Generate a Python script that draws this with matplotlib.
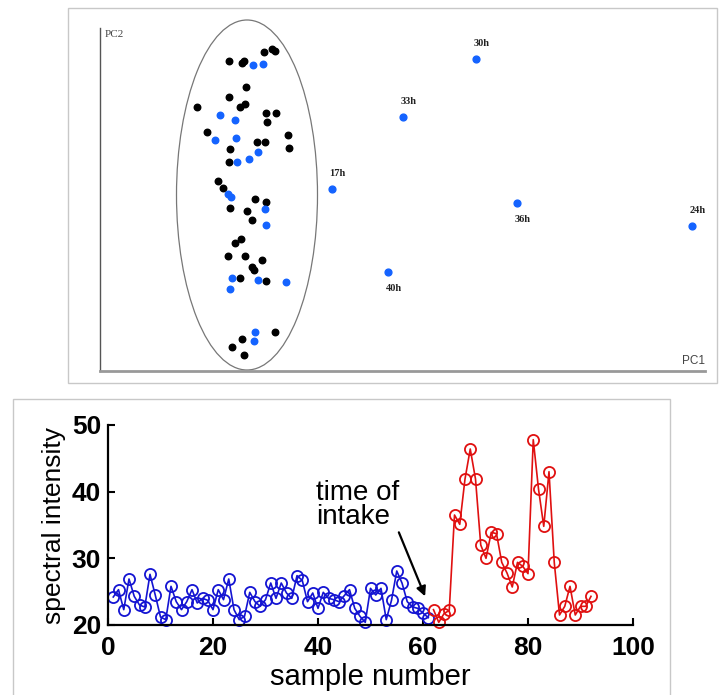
import matplotlib
matplotlib.use("Agg")
import matplotlib.pyplot as plt
from matplotlib.patches import Ellipse, Rectangle

# ---------------- top panel data (PCA scores, arbitrary units) ----------------
black_pc1 = [164, 172, 175, 129, 142, 144, 146, 129, 97, 140, 145, 166, 176, 167,
             107, 188, 157, 165, 130, 189, 129, 118, 123, 155, 166, 130, 147, 152,
             135, 141, 128, 145, 162, 152, 154, 140, 166, 175, 142, 132, 144]
black_pc2 = [319, 322, 320, 310, 308, 310, 284, 274, 264, 264, 267, 258, 258, 249,
             239, 236, 229, 229, 222, 223, 209, 190, 183, 172, 169, 163, 160, 151,
             128, 132, 115, 115, 111, 104, 101, 93, 90, 39, 32, 24, 16]
blue_pc1 = [153, 163, 120, 135, 115, 136, 158, 149, 137, 128, 131, 165, 166, 132,
            158, 186, 130, 155, 154]
blue_pc2 = [306, 307, 256, 251, 231, 233, 219, 212, 209, 177, 174, 162, 146, 93,
            91, 89, 82, 39, 30]
lab_names = ["17h", "33h", "30h", "36h", "24h", "40h"]
lab_pc1 = [232, 303, 376, 417, 592, 288]
lab_pc2 = [182, 254, 312, 168, 145, 99]
lab_up = [True, True, True, False, True, False]

# ---------------- bottom panel data ----------------
blue_x = list(range(1, 62))
blue_y = [24.2, 25.3, 22.3, 26.9, 24.3, 23.0, 22.7, 27.6, 24.5, 21.2,
          20.8, 25.8, 23.5, 22.3, 23.5, 25.3, 23.3, 24.0, 23.7, 22.3,
          25.3, 23.8, 26.9, 22.3, 20.8, 21.3, 24.9, 23.5, 22.8, 23.8,
          26.3, 24.0, 26.3, 24.8, 24.0, 27.4, 26.7, 23.5, 24.8, 22.5,
          24.9, 24.0, 23.8, 23.5, 24.4, 25.3, 22.5, 21.3, 20.4, 25.5,
          24.5, 25.5, 20.8, 23.7, 28.1, 26.3, 23.5, 22.7, 22.5, 21.8,
          21.1]
red_x = list(range(62, 93))
red_y = [22.3, 20.4, 21.7, 22.2, 36.5, 35.1, 41.9, 46.4, 41.9, 32.0,
         30.0, 33.9, 33.7, 29.4, 27.8, 25.7, 29.4, 28.8, 27.7, 47.8,
         40.4, 34.8, 43.0, 29.4, 21.5, 22.8, 25.8, 21.5, 22.8, 22.8,
         24.3]
xticks = [0, 20, 40, 60, 80, 100]
yticks = [20, 30, 40, 50]

W, H = 723, 695
fig = plt.figure(figsize=(W / 100, H / 100), dpi=100)

def fx(px):
    return px / W

def fy(py):
    return 1 - py / H

# outer frames
fig.add_artist(Rectangle((fx(68), fy(383)), 649 / W, 375 / H, transform=fig.transFigure,
                         fill=False, ec="#c8c8c8", lw=1))
fig.add_artist(Rectangle((fx(13), -0.01), 657 / W, fy(399) + 0.01, transform=fig.transFigure,
                         fill=False, ec="#c8c8c8", lw=1))

# ---------------- top axes ----------------
ax1 = fig.add_axes([fx(100), fy(371), 605 / W, 343 / H])
ax1.set_xlim(0, 605)
ax1.set_ylim(0, 343)
ax1.set_xticks([])
ax1.set_yticks([])
for s in ["top", "right"]:
    ax1.spines[s].set_visible(False)
ax1.spines["left"].set_color("#555555")
ax1.spines["left"].set_linewidth(1.0)
ax1.spines["bottom"].set_color("#999999")
ax1.spines["bottom"].set_linewidth(2.0)

ax1.add_patch(Ellipse((147, 176), 141, 350, fill=False, ec="#777777", lw=0.9, clip_on=False))
ax1.scatter(black_pc1, black_pc2, s=22, color="black", zorder=3, clip_on=False)
ax1.scatter(blue_pc1, blue_pc2, s=22, color="#1463ff", zorder=3, clip_on=False)
ax1.scatter(lab_pc1, lab_pc2, s=24, color="#1463ff", zorder=3, clip_on=False)
for n, x, y, up in zip(lab_names, lab_pc1, lab_pc2, lab_up):
    ax1.annotate(n, (x, y), xytext=(4, 11 if up else -12), textcoords="offset points",
                 ha="center", va="center", fontsize=7.5, fontweight="bold",
                 family="Liberation Serif", color="#222222")
ax1.text(0.007, 0.995, "PC2", transform=ax1.transAxes, ha="left", va="top",
         fontsize=8, family="Liberation Serif", color="#444444")
ax1.text(1.0, 0.012, "PC1", transform=ax1.transAxes, ha="right", va="bottom",
         fontsize=8.5, family="Liberation Sans", color="#444444")

# ---------------- bottom axes ----------------
ax2 = fig.add_axes([fx(108), fy(625), 525 / W, 200 / H])
ax2.set_xlim(0, 100)
ax2.set_ylim(20, 50)
for s in ["top", "right"]:
    ax2.spines[s].set_visible(False)
for s in ["left", "bottom"]:
    ax2.spines[s].set_linewidth(1.6)
    ax2.spines[s].set_color("black")
ax2.set_xticks(xticks)
ax2.set_yticks(yticks)
ax2.tick_params(direction="in", length=5, width=1.5)
ax2.tick_params(axis="x", pad=8)
ax2.tick_params(axis="y", pad=5)
for lab in ax2.get_xticklabels() + ax2.get_yticklabels():
    lab.set_fontsize(19)
    lab.set_fontweight("bold")
    lab.set_family("Liberation Sans")

ax2.plot(blue_x, blue_y, color="#1414d2", lw=1.2, marker="o", ms=8, mfc="none",
         mec="#1414d2", mew=1.3, clip_on=False)
ax2.plot(red_x, red_y, color="#e01010", lw=1.2, marker="o", ms=8, mfc="none",
         mec="#e01010", mew=1.3, clip_on=False)

ax2.set_xlabel("sample number", fontsize=21, family="Liberation Sans", labelpad=2)
ax2.set_ylabel("spectral intensity", fontsize=19, family="Liberation Sans", labelpad=4)

ax2.text(39.6, 41.8, "time of\nintake", ha="left", va="top", fontsize=20,
         family="Liberation Sans", linespacing=0.92)
ax2.annotate("", xy=(60.4, 24.3), xytext=(55.4, 33.9),
             arrowprops=dict(arrowstyle="-|>", color="black", lw=1.6,
                             mutation_scale=14, shrinkA=0, shrinkB=0))

fig.savefig("out.png", dpi=100)
